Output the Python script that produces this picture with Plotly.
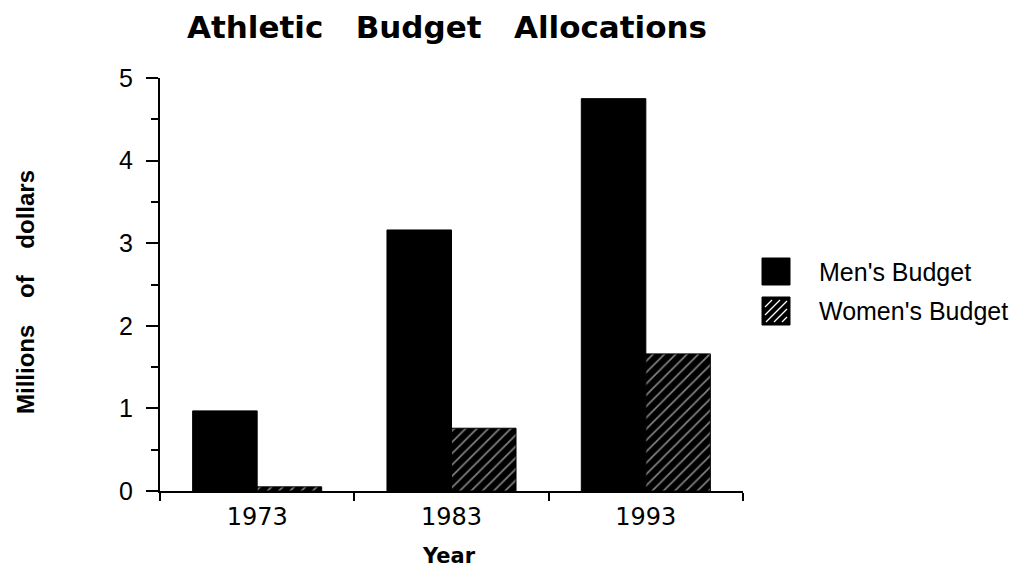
import plotly.graph_objects as go

# Budget data (millions of dollars)
years = ["1973", "1983", "1993"]
mens_budget = [0.97, 3.16, 4.75]
womens_budget = [0.05, 0.76, 1.66]
y_ticks = [0, 1, 2, 3, 4, 5]
series_names = ["Men's Budget", "Women's Budget"]

W, H = 1011, 571
L, R, T, B = 160, 268, 78, 80
pw = W - L - R
ph = H - T - B


def px(x):
    return (x - L) / pw


def py(y):
    return (H - B - y) / ph


NB = "\u00a0"
bold = "DejaVu Sans"
plain = "Liberation Sans"

fig = go.Figure()
fig.add_bar(
    x=years, y=mens_budget, name=series_names[0],
    marker=dict(color="black", line=dict(color="black", width=1)),
)
fig.add_bar(
    x=years, y=womens_budget, name=series_names[1],
    marker=dict(
        color="black", line=dict(color="black", width=1),
        pattern=dict(shape="/", bgcolor="black", fgcolor="white",
                     size=8, solidity=0.22),
    ),
)

# Legend swatches drawn as shapes
shapes = []
sw_x0, sw_x1 = 762, 790
rows = [(258, 285), (297, 325)]
for top, bot in rows:
    shapes.append(dict(type="rect", xref="paper", yref="paper",
                       x0=px(sw_x0), x1=px(sw_x1), y0=py(bot), y1=py(top),
                       fillcolor="black", line=dict(color="black", width=1)))
# diagonal hatching for the second swatch
top, bot = rows[1]
side = sw_x1 - sw_x0
for c in range(-side + 5, side, 8):
    u1, u2 = max(3, c + 3), min(side - 3, side + c - 3)
    if u2 - u1 < 3:
        continue
    shapes.append(dict(type="line", xref="paper", yref="paper",
                       x0=px(sw_x0 + u1), y0=py(bot - (u1 - c)),
                       x1=px(sw_x0 + u2), y1=py(bot - (u2 - c)),
                       line=dict(color="white", width=1.2)))

annotations = [
    dict(text=series_names[0], x=px(817), y=py(272), xref="paper", yref="paper",
         xanchor="left", yanchor="middle", showarrow=False,
         font=dict(family=plain, size=25, color="black")),
    dict(text=series_names[1], x=px(817), y=py(311), xref="paper", yref="paper",
         xanchor="left", yanchor="middle", showarrow=False,
         font=dict(family=plain, size=25, color="black")),
    dict(text=f"Millions{NB*4}of{NB*4}dollars", textangle=-90,
         x=px(25), y=py(292), xref="paper", yref="paper",
         xanchor="center", yanchor="middle", showarrow=False,
         font=dict(family=plain, size=24, color="black", weight="bold")),
    dict(text="Year", x=px(449), y=py(556), xref="paper", yref="paper",
         xanchor="center", yanchor="middle", showarrow=False, borderpad=0,
         font=dict(family=bold, size=21, color="black", weight="bold")),
]

fig.update_layout(
    width=W, height=H,
    margin=dict(l=L, r=R, t=T, b=B, pad=0),
    paper_bgcolor="white", plot_bgcolor="white",
    barmode="group", bargap=0.336, bargroupgap=0,
    showlegend=False,
    title=dict(text=f"Athletic{NB*3}Budget{NB*3}Allocations",
               x=px(447), xanchor="center", xref="paper",
               y=1 - 27 / H, yanchor="middle", yref="container",
               font=dict(family=bold, size=31, color="black", weight="bold")),
    shapes=shapes,
    annotations=annotations,
    xaxis=dict(type="category", range=[-0.5, 2.5],
               showline=True, linecolor="black", linewidth=2,
               ticks="outside", tickson="boundaries", ticklen=8,
               tickwidth=2, tickcolor="black",
               tickfont=dict(family="DejaVu Sans", size=24, color="black"),
               ticklabelstandoff=3,
               showgrid=False, zeroline=False),
    yaxis=dict(range=[0, 5], tickvals=y_ticks,
               showline=True, linecolor="black", linewidth=2,
               ticks="outside", ticklen=12, tickwidth=2, tickcolor="black",
               minor=dict(dtick=0.5, ticks="outside", ticklen=7,
                          tickwidth=2, tickcolor="black", showgrid=False),
               tickfont=dict(family=plain, size=25, color="black"),
               ticklabelstandoff=8,
               showgrid=False, zeroline=False),
)

fig.write_html("out.html")
